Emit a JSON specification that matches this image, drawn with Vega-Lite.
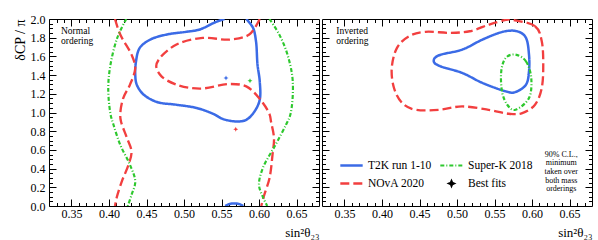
{
  "$schema": "https://vega.github.io/schema/vega-lite/v6.json",
  "background": "white",
  "padding": {"left": 12, "top": 12, "right": 0, "bottom": 0},
  "datasets": {
    "contours": [
      {"p":"NO","s":"T2K run 1-10","g":"a","i":0,"x":0.554,"y":2.0},
      {"p":"NO","s":"T2K run 1-10","g":"a","i":1,"x":0.543,"y":1.97},
      {"p":"NO","s":"T2K run 1-10","g":"a","i":2,"x":0.521,"y":1.888},
      {"p":"NO","s":"T2K run 1-10","g":"a","i":3,"x":0.503,"y":1.863},
      {"p":"NO","s":"T2K run 1-10","g":"a","i":4,"x":0.477,"y":1.834},
      {"p":"NO","s":"T2K run 1-10","g":"a","i":5,"x":0.455,"y":1.78},
      {"p":"NO","s":"T2K run 1-10","g":"a","i":6,"x":0.441,"y":1.691},
      {"p":"NO","s":"T2K run 1-10","g":"a","i":7,"x":0.436,"y":1.547},
      {"p":"NO","s":"T2K run 1-10","g":"a","i":8,"x":0.435,"y":1.405},
      {"p":"NO","s":"T2K run 1-10","g":"a","i":9,"x":0.437,"y":1.298},
      {"p":"NO","s":"T2K run 1-10","g":"a","i":10,"x":0.446,"y":1.193},
      {"p":"NO","s":"T2K run 1-10","g":"a","i":11,"x":0.464,"y":1.112},
      {"p":"NO","s":"T2K run 1-10","g":"a","i":12,"x":0.49,"y":1.083},
      {"p":"NO","s":"T2K run 1-10","g":"a","i":13,"x":0.517,"y":1.048},
      {"p":"NO","s":"T2K run 1-10","g":"a","i":14,"x":0.539,"y":0.985},
      {"p":"NO","s":"T2K run 1-10","g":"a","i":15,"x":0.552,"y":0.93},
      {"p":"NO","s":"T2K run 1-10","g":"a","i":16,"x":0.57,"y":0.904},
      {"p":"NO","s":"T2K run 1-10","g":"a","i":17,"x":0.583,"y":0.922},
      {"p":"NO","s":"T2K run 1-10","g":"a","i":18,"x":0.594,"y":1.011},
      {"p":"NO","s":"T2K run 1-10","g":"a","i":19,"x":0.601,"y":1.137},
      {"p":"NO","s":"T2K run 1-10","g":"a","i":20,"x":0.601,"y":1.333},
      {"p":"NO","s":"T2K run 1-10","g":"a","i":21,"x":0.598,"y":1.512},
      {"p":"NO","s":"T2K run 1-10","g":"a","i":22,"x":0.596,"y":1.762},
      {"p":"NO","s":"T2K run 1-10","g":"a","i":23,"x":0.592,"y":1.906},
      {"p":"NO","s":"T2K run 1-10","g":"a","i":24,"x":0.583,"y":2.0},
      {"p":"NO","s":"T2K run 1-10","g":"b","i":0,"x":0.555,"y":0.0},
      {"p":"NO","s":"T2K run 1-10","g":"b","i":1,"x":0.56,"y":0.02},
      {"p":"NO","s":"T2K run 1-10","g":"b","i":2,"x":0.567,"y":0.028},
      {"p":"NO","s":"T2K run 1-10","g":"b","i":3,"x":0.574,"y":0.02},
      {"p":"NO","s":"T2K run 1-10","g":"b","i":4,"x":0.579,"y":0.0},
      {"p":"NO","s":"NOvA 2020","g":"c","i":0,"x":0.408,"y":2.0},
      {"p":"NO","s":"NOvA 2020","g":"c","i":1,"x":0.415,"y":1.834},
      {"p":"NO","s":"NOvA 2020","g":"c","i":2,"x":0.43,"y":1.619},
      {"p":"NO","s":"NOvA 2020","g":"c","i":3,"x":0.435,"y":1.477},
      {"p":"NO","s":"NOvA 2020","g":"c","i":4,"x":0.428,"y":1.298},
      {"p":"NO","s":"NOvA 2020","g":"c","i":5,"x":0.419,"y":1.155},
      {"p":"NO","s":"NOvA 2020","g":"c","i":6,"x":0.415,"y":0.983},
      {"p":"NO","s":"NOvA 2020","g":"c","i":7,"x":0.416,"y":0.904},
      {"p":"NO","s":"NOvA 2020","g":"c","i":8,"x":0.424,"y":0.726},
      {"p":"NO","s":"NOvA 2020","g":"c","i":9,"x":0.43,"y":0.582},
      {"p":"NO","s":"NOvA 2020","g":"c","i":10,"x":0.426,"y":0.44},
      {"p":"NO","s":"NOvA 2020","g":"c","i":11,"x":0.417,"y":0.261},
      {"p":"NO","s":"NOvA 2020","g":"c","i":12,"x":0.41,"y":0.083},
      {"p":"NO","s":"NOvA 2020","g":"c","i":13,"x":0.408,"y":0.0},
      {"p":"NO","s":"NOvA 2020","g":"d","i":0,"x":0.601,"y":2.0},
      {"p":"NO","s":"NOvA 2020","g":"d","i":1,"x":0.587,"y":1.834},
      {"p":"NO","s":"NOvA 2020","g":"d","i":2,"x":0.561,"y":1.78},
      {"p":"NO","s":"NOvA 2020","g":"d","i":3,"x":0.525,"y":1.798},
      {"p":"NO","s":"NOvA 2020","g":"d","i":4,"x":0.49,"y":1.727},
      {"p":"NO","s":"NOvA 2020","g":"d","i":5,"x":0.468,"y":1.584},
      {"p":"NO","s":"NOvA 2020","g":"d","i":6,"x":0.463,"y":1.494},
      {"p":"NO","s":"NOvA 2020","g":"d","i":7,"x":0.47,"y":1.387},
      {"p":"NO","s":"NOvA 2020","g":"d","i":8,"x":0.49,"y":1.298},
      {"p":"NO","s":"NOvA 2020","g":"d","i":9,"x":0.521,"y":1.255},
      {"p":"NO","s":"NOvA 2020","g":"d","i":10,"x":0.561,"y":1.305},
      {"p":"NO","s":"NOvA 2020","g":"d","i":11,"x":0.583,"y":1.279},
      {"p":"NO","s":"NOvA 2020","g":"d","i":12,"x":0.6,"y":1.155},
      {"p":"NO","s":"NOvA 2020","g":"d","i":13,"x":0.614,"y":0.983},
      {"p":"NO","s":"NOvA 2020","g":"d","i":14,"x":0.616,"y":0.904},
      {"p":"NO","s":"NOvA 2020","g":"d","i":15,"x":0.62,"y":0.726},
      {"p":"NO","s":"NOvA 2020","g":"d","i":16,"x":0.618,"y":0.547},
      {"p":"NO","s":"NOvA 2020","g":"d","i":17,"x":0.614,"y":0.297},
      {"p":"NO","s":"NOvA 2020","g":"d","i":18,"x":0.607,"y":0.118},
      {"p":"NO","s":"NOvA 2020","g":"d","i":19,"x":0.603,"y":0.0},
      {"p":"NO","s":"Super-K 2018","g":"e","i":0,"x":0.423,"y":2.0},
      {"p":"NO","s":"Super-K 2018","g":"e","i":1,"x":0.411,"y":1.798},
      {"p":"NO","s":"Super-K 2018","g":"e","i":2,"x":0.402,"y":1.512},
      {"p":"NO","s":"Super-K 2018","g":"e","i":3,"x":0.399,"y":1.262},
      {"p":"NO","s":"Super-K 2018","g":"e","i":4,"x":0.402,"y":0.983},
      {"p":"NO","s":"Super-K 2018","g":"e","i":5,"x":0.406,"y":0.869},
      {"p":"NO","s":"Super-K 2018","g":"e","i":6,"x":0.415,"y":0.654},
      {"p":"NO","s":"Super-K 2018","g":"e","i":7,"x":0.428,"y":0.44},
      {"p":"NO","s":"Super-K 2018","g":"e","i":8,"x":0.435,"y":0.261},
      {"p":"NO","s":"Super-K 2018","g":"e","i":9,"x":0.43,"y":0.118},
      {"p":"NO","s":"Super-K 2018","g":"e","i":10,"x":0.425,"y":0.0},
      {"p":"NO","s":"Super-K 2018","g":"f","i":0,"x":0.614,"y":2.0},
      {"p":"NO","s":"Super-K 2018","g":"f","i":1,"x":0.627,"y":1.834},
      {"p":"NO","s":"Super-K 2018","g":"f","i":2,"x":0.638,"y":1.619},
      {"p":"NO","s":"Super-K 2018","g":"f","i":3,"x":0.645,"y":1.333},
      {"p":"NO","s":"Super-K 2018","g":"f","i":4,"x":0.642,"y":0.983},
      {"p":"NO","s":"Super-K 2018","g":"f","i":5,"x":0.636,"y":0.869},
      {"p":"NO","s":"Super-K 2018","g":"f","i":6,"x":0.622,"y":0.654},
      {"p":"NO","s":"Super-K 2018","g":"f","i":7,"x":0.605,"y":0.404},
      {"p":"NO","s":"Super-K 2018","g":"f","i":8,"x":0.6,"y":0.225},
      {"p":"NO","s":"Super-K 2018","g":"f","i":9,"x":0.605,"y":0.1},
      {"p":"NO","s":"Super-K 2018","g":"f","i":10,"x":0.611,"y":0.0},
      {"p":"IO","s":"NOvA 2020","g":"h","i":0,"x":0.575,"y":1.99},
      {"p":"IO","s":"NOvA 2020","g":"h","i":1,"x":0.604,"y":1.923},
      {"p":"IO","s":"NOvA 2020","g":"h","i":2,"x":0.613,"y":1.762},
      {"p":"IO","s":"NOvA 2020","g":"h","i":3,"x":0.615,"y":1.512},
      {"p":"IO","s":"NOvA 2020","g":"h","i":4,"x":0.613,"y":1.262},
      {"p":"IO","s":"NOvA 2020","g":"h","i":5,"x":0.604,"y":1.083},
      {"p":"IO","s":"NOvA 2020","g":"h","i":6,"x":0.587,"y":0.994},
      {"p":"IO","s":"NOvA 2020","g":"h","i":7,"x":0.569,"y":0.987},
      {"p":"IO","s":"NOvA 2020","g":"h","i":8,"x":0.542,"y":1.029},
      {"p":"IO","s":"NOvA 2020","g":"h","i":9,"x":0.507,"y":1.065},
      {"p":"IO","s":"NOvA 2020","g":"h","i":10,"x":0.476,"y":1.029},
      {"p":"IO","s":"NOvA 2020","g":"h","i":11,"x":0.445,"y":1.029},
      {"p":"IO","s":"NOvA 2020","g":"h","i":12,"x":0.427,"y":1.101},
      {"p":"IO","s":"NOvA 2020","g":"h","i":13,"x":0.416,"y":1.262},
      {"p":"IO","s":"NOvA 2020","g":"h","i":14,"x":0.413,"y":1.477},
      {"p":"IO","s":"NOvA 2020","g":"h","i":15,"x":0.42,"y":1.691},
      {"p":"IO","s":"NOvA 2020","g":"h","i":16,"x":0.436,"y":1.816},
      {"p":"IO","s":"NOvA 2020","g":"h","i":17,"x":0.458,"y":1.863},
      {"p":"IO","s":"NOvA 2020","g":"h","i":18,"x":0.49,"y":1.852},
      {"p":"IO","s":"NOvA 2020","g":"h","i":19,"x":0.517,"y":1.869},
      {"p":"IO","s":"NOvA 2020","g":"h","i":20,"x":0.543,"y":1.941},
      {"p":"IO","s":"NOvA 2020","g":"h","i":21,"x":0.565,"y":1.99},
      {"p":"IO","s":"T2K run 1-10","g":"k","i":0,"x":0.469,"y":1.547},
      {"p":"IO","s":"T2K run 1-10","g":"k","i":1,"x":0.476,"y":1.612},
      {"p":"IO","s":"T2K run 1-10","g":"k","i":2,"x":0.507,"y":1.673},
      {"p":"IO","s":"T2K run 1-10","g":"k","i":3,"x":0.534,"y":1.78},
      {"p":"IO","s":"T2K run 1-10","g":"k","i":4,"x":0.561,"y":1.863},
      {"p":"IO","s":"T2K run 1-10","g":"k","i":5,"x":0.58,"y":1.869},
      {"p":"IO","s":"T2K run 1-10","g":"k","i":6,"x":0.592,"y":1.798},
      {"p":"IO","s":"T2K run 1-10","g":"k","i":7,"x":0.596,"y":1.619},
      {"p":"IO","s":"T2K run 1-10","g":"k","i":8,"x":0.596,"y":1.44},
      {"p":"IO","s":"T2K run 1-10","g":"k","i":9,"x":0.592,"y":1.298},
      {"p":"IO","s":"T2K run 1-10","g":"k","i":10,"x":0.578,"y":1.219},
      {"p":"IO","s":"T2K run 1-10","g":"k","i":11,"x":0.565,"y":1.226},
      {"p":"IO","s":"T2K run 1-10","g":"k","i":12,"x":0.534,"y":1.316},
      {"p":"IO","s":"T2K run 1-10","g":"k","i":13,"x":0.507,"y":1.423},
      {"p":"IO","s":"T2K run 1-10","g":"k","i":14,"x":0.478,"y":1.494},
      {"p":"IO","s":"Super-K 2018","g":"m","i":0,"x":0.578,"y":1.619},
      {"p":"IO","s":"Super-K 2018","g":"m","i":1,"x":0.592,"y":1.547},
      {"p":"IO","s":"Super-K 2018","g":"m","i":2,"x":0.599,"y":1.369},
      {"p":"IO","s":"Super-K 2018","g":"m","i":3,"x":0.596,"y":1.155},
      {"p":"IO","s":"Super-K 2018","g":"m","i":4,"x":0.578,"y":1.029},
      {"p":"IO","s":"Super-K 2018","g":"m","i":5,"x":0.567,"y":1.083},
      {"p":"IO","s":"Super-K 2018","g":"m","i":6,"x":0.56,"y":1.226},
      {"p":"IO","s":"Super-K 2018","g":"m","i":7,"x":0.559,"y":1.44},
      {"p":"IO","s":"Super-K 2018","g":"m","i":8,"x":0.565,"y":1.584}
    ],
    "fits": [
      {"s":"T2K run 1-10","x":0.556,"y":1.37},
      {"s":"NOvA 2020","x":0.569,"y":0.82},
      {"s":"Super-K 2018","x":0.588,"y":1.34}
    ]
  },
  "spacing": 1,
  "resolve": {"scale": {"color": "shared", "strokeDash": "shared", "strokeWidth": "shared"}, "legend": {"color": "shared", "strokeDash": "shared"}},
  "hconcat": [
    {
      "width": 270,
      "height": 187,
      "layer": [
        {
          "data": {"name": "contours"},
          "transform": [{"filter": "datum.p == 'NO'"}],
          "mark": {"type": "line", "interpolate": "catmull-rom", "clip": true},
          "encoding": {
            "x": {"field": "x", "type": "quantitative", "scale": {"domain": [0.32, 0.68], "nice": false, "zero": false},
              "axis": {"orient": "bottom", "values": [0.33,0.34,0.35,0.36,0.37,0.38,0.39,0.40,0.41,0.42,0.43,0.44,0.45,0.46,0.47,0.48,0.49,0.50,0.51,0.52,0.53,0.54,0.55,0.56,0.57,0.58,0.59,0.60,0.61,0.62,0.63,0.64,0.65,0.66,0.67],
                "labelExpr": "abs(datum.value*20 - round(datum.value*20)) < 0.01 ? format(datum.value, '.2f') : ''",
                "tickSize": {"condition": {"test": "abs(datum.value*20 - round(datum.value*20)) < 0.01", "value": -7}, "value": -3.5},
                "labelPadding": 9, "labelOverlap": false, "labelFlush": false, "labelBound": false,
                "title": "sin²θ₂₃", "titleAnchor": "end", "titleFontSize": 13, "titlePadding": 4}},
            "y": {"field": "y", "type": "quantitative", "scale": {"domain": [0, 2], "nice": false, "zero": false},
              "axis": {"orient": "left", "values": [0,0.05,0.1,0.15,0.2,0.25,0.3,0.35,0.4,0.45,0.5,0.55,0.6,0.65,0.7,0.75,0.8,0.85,0.9,0.95,1.0,1.05,1.1,1.15,1.2,1.25,1.3,1.35,1.4,1.45,1.5,1.55,1.6,1.65,1.7,1.75,1.8,1.85,1.9,1.95,2.0],
                "labelExpr": "abs(datum.value*5 - round(datum.value*5)) < 0.01 ? format(datum.value, '.1f') : ''",
                "tickSize": {"condition": {"test": "abs(datum.value*5 - round(datum.value*5)) < 0.01", "value": -7}, "value": -3.5},
                "labelPadding": 11, "labelOverlap": false, "labelFlush": false, "labelBound": false,
                "title": "δCP / π", "titleAnchor": "end", "titleFontSize": 14, "titlePadding": 3}},
            "color": {"field": "s", "type": "nominal",
              "scale": {"domain": ["T2K run 1-10", "NOvA 2020", "Super-K 2018", "Best fits"], "range": ["#3b6be6", "#f23f3f", "#2ec82e", "#000000"]},
              "legend": {"orient": "none", "legendX": 290, "legendY": 134, "columns": 2, "title": null,
                "symbolType": "stroke", "symbolSize": 500, "symbolStrokeWidth": 2.2, "labelFontSize": 11.5, "labelFont": "Liberation Serif", "labelColor": "black",
                "labelOffset": 4, "columnPadding": 3, "rowPadding": -7,
                "encode": {"symbols": {"update": {
                  "shape": {"signal": "datum.value == 'Best fits' ? 'M0,-1L0.3,-0.3L1,0L0.3,0.3L0,1L-0.3,0.3L-1,0L-0.3,-0.3Z' : 'stroke'"},
                  "size": {"signal": "datum.value == 'Best fits' ? 25 : 500"},
                  "fill": {"signal": "datum.value == 'Best fits' ? 'black' : 'transparent'"}}}}}},
            "strokeDash": {"field": "s", "type": "nominal",
              "scale": {"domain": ["T2K run 1-10", "NOvA 2020", "Super-K 2018", "Best fits"], "range": [[1,0], [9,4], [4,2,1,2], [1,0]]}},
            "strokeWidth": {"field": "s", "type": "nominal",
              "scale": {"domain": ["T2K run 1-10", "NOvA 2020", "Super-K 2018", "Best fits"], "range": [2.5, 2, 1.5, 1]}, "legend": null},
            "detail": {"field": "g"},
            "order": {"field": "i", "type": "quantitative"}
          }
        },
        {
          "data": {"name": "fits"},
          "mark": {"type": "point", "shape": "M0,-1L0.3,-0.3L1,0L0.3,0.3L0,1L-0.3,0.3L-1,0L-0.3,-0.3Z", "filled": true, "size": 25, "opacity": 1},
          "encoding": {
            "x": {"field": "x", "type": "quantitative", "scale": {"domain": [0.32, 0.68], "nice": false, "zero": false},
              "axis": {"orient": "top", "values": [0.33,0.34,0.35,0.36,0.37,0.38,0.39,0.40,0.41,0.42,0.43,0.44,0.45,0.46,0.47,0.48,0.49,0.50,0.51,0.52,0.53,0.54,0.55,0.56,0.57,0.58,0.59,0.60,0.61,0.62,0.63,0.64,0.65,0.66,0.67],
                "labels": false, "title": null,
                "tickSize": {"condition": {"test": "abs(datum.value*20 - round(datum.value*20)) < 0.01", "value": -7}, "value": -3.5}}},
            "y": {"field": "y", "type": "quantitative", "scale": {"domain": [0, 2], "nice": false, "zero": false},
              "axis": {"orient": "right", "values": [0.05,0.1,0.15,0.2,0.25,0.3,0.35,0.4,0.45,0.5,0.55,0.6,0.65,0.7,0.75,0.8,0.85,0.9,0.95,1.0,1.05,1.1,1.15,1.2,1.25,1.3,1.35,1.4,1.45,1.5,1.55,1.6,1.65,1.7,1.75,1.8,1.85,1.9,1.95],
                "labels": false, "title": null,
                "tickSize": {"condition": {"test": "abs(datum.value*5 - round(datum.value*5)) < 0.01", "value": -7}, "value": -3.5}}},
            "color": {"field": "s", "type": "nominal", "legend": null}
          }
        },
        {
          "data": {"values": [{}]},
          "mark": {"type": "text", "align": "left", "baseline": "top", "font": "Liberation Serif", "fontSize": 9.5, "lineHeight": 10, "color": "black", "text": ["Normal", "ordering"]},
          "encoding": {
            "x": {"datum": 0.336, "type": "quantitative", "axis": null},
            "y": {"datum": 1.92, "type": "quantitative", "axis": null}
          }
        }
      ],
      "resolve": {"axis": {"x": "independent", "y": "independent"}}
    },
    {
      "width": 270,
      "height": 187,
      "layer": [
        {
          "data": {"name": "contours"},
          "transform": [{"filter": "datum.p == 'IO' && datum.s != 'Super-K 2018'"}],
          "mark": {"type": "line", "interpolate": "cardinal-closed", "clip": true},
          "encoding": {
            "x": {"field": "x", "type": "quantitative", "scale": {"domain": [0.32, 0.68], "nice": false, "zero": false},
              "axis": {"orient": "bottom", "values": [0.33,0.34,0.35,0.36,0.37,0.38,0.39,0.40,0.41,0.42,0.43,0.44,0.45,0.46,0.47,0.48,0.49,0.50,0.51,0.52,0.53,0.54,0.55,0.56,0.57,0.58,0.59,0.60,0.61,0.62,0.63,0.64,0.65,0.66,0.67],
                "labelExpr": "abs(datum.value*20 - round(datum.value*20)) < 0.01 ? format(datum.value, '.2f') : ''",
                "tickSize": {"condition": {"test": "abs(datum.value*20 - round(datum.value*20)) < 0.01", "value": -7}, "value": -3.5},
                "labelPadding": 9, "labelOverlap": false, "labelFlush": false, "labelBound": false,
                "title": "sin²θ₂₃", "titleAnchor": "end", "titleFontSize": 13, "titlePadding": 4}},
            "y": {"field": "y", "type": "quantitative", "scale": {"domain": [0, 2], "nice": false, "zero": false},
              "axis": {"orient": "left", "values": [0.05,0.1,0.15,0.2,0.25,0.3,0.35,0.4,0.45,0.5,0.55,0.6,0.65,0.7,0.75,0.8,0.85,0.9,0.95,1.0,1.05,1.1,1.15,1.2,1.25,1.3,1.35,1.4,1.45,1.5,1.55,1.6,1.65,1.7,1.75,1.8,1.85,1.9,1.95],
                "labels": false, "title": null,
                "tickSize": {"condition": {"test": "abs(datum.value*5 - round(datum.value*5)) < 0.01", "value": -7}, "value": -3.5}}},
            "color": {"field": "s", "type": "nominal", "scale": {"domain": ["T2K run 1-10", "NOvA 2020", "Super-K 2018", "Best fits"], "range": ["#3b6be6", "#f23f3f", "#2ec82e", "#000000"]}},
            "strokeDash": {"field": "s", "type": "nominal", "scale": {"domain": ["T2K run 1-10", "NOvA 2020", "Super-K 2018", "Best fits"], "range": [[1,0], [9,4], [4,2,1,2], [1,0]]}},
            "strokeWidth": {"field": "s", "type": "nominal", "scale": {"domain": ["T2K run 1-10", "NOvA 2020", "Super-K 2018", "Best fits"], "range": [2.5, 2, 1.5, 1]}, "legend": null},
            "detail": {"field": "g"},
            "order": {"field": "i", "type": "quantitative"}
          }
        },
        {
          "data": {"name": "contours"},
          "transform": [{"filter": "datum.p == 'IO' && datum.s == 'Super-K 2018'"}],
          "mark": {"type": "line", "interpolate": "cardinal-closed", "clip": true},
          "encoding": {
            "x": {"field": "x", "type": "quantitative", "scale": {"domain": [0.32, 0.68], "nice": false, "zero": false},
              "axis": {"orient": "top", "values": [0.33,0.34,0.35,0.36,0.37,0.38,0.39,0.40,0.41,0.42,0.43,0.44,0.45,0.46,0.47,0.48,0.49,0.50,0.51,0.52,0.53,0.54,0.55,0.56,0.57,0.58,0.59,0.60,0.61,0.62,0.63,0.64,0.65,0.66,0.67],
                "labels": false, "title": null,
                "tickSize": {"condition": {"test": "abs(datum.value*20 - round(datum.value*20)) < 0.01", "value": -7}, "value": -3.5}}},
            "y": {"field": "y", "type": "quantitative", "scale": {"domain": [0, 2], "nice": false, "zero": false},
              "axis": {"orient": "right", "values": [0.05,0.1,0.15,0.2,0.25,0.3,0.35,0.4,0.45,0.5,0.55,0.6,0.65,0.7,0.75,0.8,0.85,0.9,0.95,1.0,1.05,1.1,1.15,1.2,1.25,1.3,1.35,1.4,1.45,1.5,1.55,1.6,1.65,1.7,1.75,1.8,1.85,1.9,1.95],
                "labels": false, "title": null,
                "tickSize": {"condition": {"test": "abs(datum.value*5 - round(datum.value*5)) < 0.01", "value": -7}, "value": -3.5}}},
            "color": {"field": "s", "type": "nominal", "scale": {"domain": ["T2K run 1-10", "NOvA 2020", "Super-K 2018", "Best fits"], "range": ["#3b6be6", "#f23f3f", "#2ec82e", "#000000"]}},
            "strokeDash": {"field": "s", "type": "nominal", "scale": {"domain": ["T2K run 1-10", "NOvA 2020", "Super-K 2018", "Best fits"], "range": [[1,0], [9,4], [4,2,1,2], [1,0]]}},
            "strokeWidth": {"field": "s", "type": "nominal", "scale": {"domain": ["T2K run 1-10", "NOvA 2020", "Super-K 2018", "Best fits"], "range": [2.5, 2, 1.5, 1]}, "legend": null},
            "detail": {"field": "g"},
            "order": {"field": "i", "type": "quantitative"}
          }
        },
        {
          "data": {"values": [{}]},
          "mark": {"type": "text", "align": "left", "baseline": "top", "font": "Liberation Serif", "fontSize": 9.5, "lineHeight": 10, "color": "black", "text": ["Inverted", "ordering"]},
          "encoding": {
            "x": {"datum": 0.339, "type": "quantitative", "axis": null},
            "y": {"datum": 1.92, "type": "quantitative", "axis": null}
          }
        },
        {
          "data": {"values": [{}]},
          "mark": {"type": "text", "align": "center", "baseline": "top", "font": "Liberation Serif", "fontSize": 8, "lineHeight": 8.6, "color": "black", "text": ["90% C.L.,", "minimum", "taken over", "both mass", "orderings"]},
          "encoding": {
            "x": {"datum": 0.639, "type": "quantitative", "axis": null},
            "y": {"datum": 0.59, "type": "quantitative", "axis": null}
          }
        }
      ],
      "resolve": {"axis": {"x": "independent", "y": "independent"}}
    }
  ],
  "config": {
    "view": {"stroke": "black", "strokeWidth": 1},
    "font": "Liberation Serif",
    "axis": {"domain": false, "grid": false, "labelFont": "Liberation Serif", "labelFontSize": 12, "labelColor": "black", "tickColor": "black", "tickWidth": 1,
      "titleFont": "Liberation Serif", "titleFontWeight": "normal", "titleColor": "black"},
    "legend": {"labelFont": "Liberation Serif", "padding": 0}
  }
}
